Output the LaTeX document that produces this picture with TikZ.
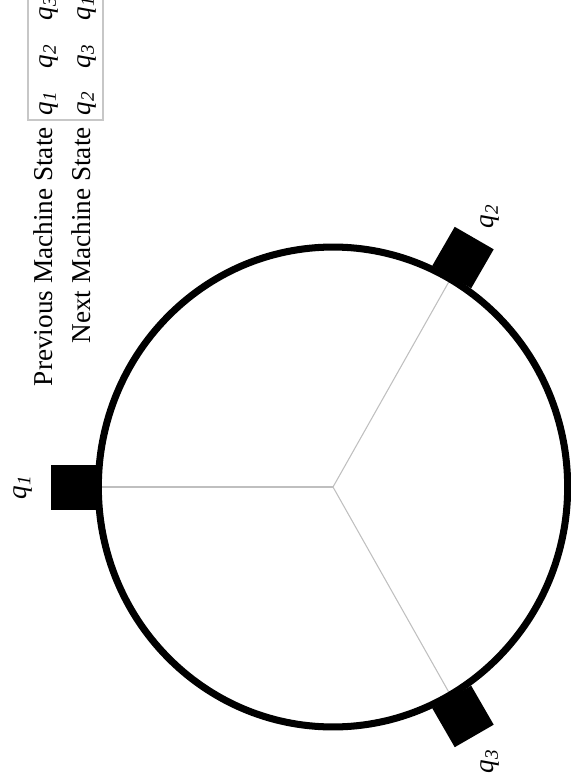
\documentclass[tikz,border=0pt]{standalone}
\usepackage{fontspec}
\setmainfont{Liberation Serif}
\usetikzlibrary{calc}
\newcommand{\qs}[1]{\textit{q}\textsubscript{\textit{#1}}}
\begin{document}
\begin{tikzpicture}[x=0.02cm,y=-0.02cm,
  txt/.style={rotate=90,inner sep=0pt,font=\fontsize{15.5}{18}\selectfont},
  statebox/.style={fill=black,draw=none,minimum size=0.9cm,inner sep=0pt},
  spoke/.style={draw=black!25,line width=0.6pt},
  ring/.style={draw=black,line width=4pt},
  tablebox/.style={draw=black!22,line width=0.8pt}]
\useasboundingbox (0,0) rectangle (571,784);
\clip (0,0) rectangle (571,784);
% centre
\coordinate (C) at (333,487);
% spokes
\coordinate (e1) at ($(C)+(180:4.694cm and 4.8cm)$);
\coordinate (e2) at ($(C)+(60:4.694cm and 4.8cm)$);
\coordinate (e3) at ($(C)+(-60:4.694cm and 4.8cm)$);
\draw[spoke] (C) -- (e1);
\draw[spoke] (C) -- (e2);
\draw[spoke] (C) -- (e3);
% ring
\draw[ring] (C) ellipse [x radius=4.694cm, y radius=4.8cm];
% state boxes
\node[statebox,rotate=180] (b1) at ($(C)+(180:5.19cm and 5.3cm)$) {};
\node[statebox,rotate=60]  (b2) at ($(C)+(60:5.2cm and 5.3cm)$) {};
\node[statebox,rotate=-60] (b3) at ($(C)+(-60:5.2cm and 5.3cm)$) {};
% labels
\node[txt] (l1) at ($(C)+(180:6.2cm and 6.3cm)$) {\qs{1}};
\node[txt] (l2) at ($(C)+(60:6.3cm and 6.25cm)$) {\qs{2}};
\node[txt] (l3) at ($(C)+(-60:6.3cm and 6.33cm)$) {\qs{3}};
% table
\draw[tablebox] (28,120) rectangle (103,-30);
\node[txt,anchor=base east] (h1) at (52,127) {Previous Machine State};
\node[txt,anchor=base east] (h2) at (90,127) {Next Machine State};
\node[txt,anchor=base] (p1) at (52,103.5) {\qs{1}};
\node[txt,anchor=base] (p2) at (52,56) {\qs{2}};
\node[txt,anchor=base] (p3) at (52,8.5) {\qs{3}};
\node[txt,anchor=base] (n1) at (90,103.5) {\qs{2}};
\node[txt,anchor=base] (n2) at (90,56) {\qs{3}};
\node[txt,anchor=base] (n3) at (90,8.5) {\qs{1}};
\end{tikzpicture}
\end{document}
